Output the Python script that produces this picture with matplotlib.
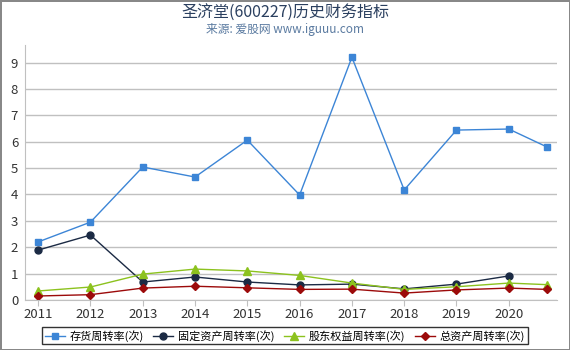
import matplotlib
matplotlib.use("Agg")
import matplotlib.pyplot as plt

plt.rcParams['font.family'] = ['Noto Sans CJK SC', 'DejaVu Sans']

# x positions (the last report is a partial year)
years = [2011, 2012, 2013, 2014, 2015, 2016, 2017, 2018, 2019, 2020, 2020.73]
xticks = [2011, 2012, 2013, 2014, 2015, 2016, 2017, 2018, 2019, 2020]

inventory = [2.2, 2.95, 5.04, 4.66, 6.06, 3.98, 9.2, 4.17, 6.44, 6.48, 5.8]
fixed_assets = [1.89, 2.46, 0.68, 0.87, 0.68, 0.57, 0.6, 0.42, 0.6, 0.91]
equity = [0.34, 0.49, 0.98, 1.17, 1.1, 0.93, 0.64, 0.4, 0.5, 0.64, 0.58]
total_assets = [0.15, 0.2, 0.45, 0.52, 0.46, 0.4, 0.41, 0.26, 0.38, 0.45, 0.4]

fig = plt.figure(figsize=(5.7, 3.5), dpi=100)
fig.patch.set_edgecolor('#888888')
fig.patch.set_linewidth(2)
ax = fig.add_axes([0.044, 0.143, 0.933, 0.728])

ax.plot(years, inventory, color='#3c85d6', marker='s', markersize=5, lw=1, label='存货周转率(次)')
ax.plot(years[:len(fixed_assets)], fixed_assets, color='#1b2a44', marker='o', markersize=5, lw=1, label='固定资产周转率(次)')
ax.plot(years, equity, color='#8cc21e', marker='^', markersize=6, lw=1, label='股东权益周转率(次)')
ax.plot(years, total_assets, color='#9c0a0a', marker='D', markersize=4, lw=1, label='总资产周转率(次)')

ax.set_xlim(2010.75, 2020.92)
ax.set_ylim(0, 9.66)
ax.set_xticks(xticks)
ax.set_xticklabels([str(y) for y in xticks])
ax.set_yticks(range(10))
ax.grid(axis='y', color='#c0c0c0', lw=1)
ax.set_axisbelow(True)
for s in ['top', 'right']:
    ax.spines[s].set_visible(False)
ax.spines['left'].set_color('#c0c0c0')
ax.spines['bottom'].set_color('#c0c0c0')
ax.tick_params(axis='y', length=0, labelsize=9.5, labelcolor='#333333', pad=5)
ax.tick_params(axis='x', length=4, color='#c0c0c0', labelsize=9.5, labelcolor='#333333', pad=2)

fig.text(0.5, 0.963, '圣济堂(600227)历史财务指标', ha='center', va='center', fontsize=11.5, color='#2a3f5f')
fig.text(0.5, 0.915, '来源: 爱股网 www.iguuu.com', ha='center', va='center', fontsize=8.5, color='#5a7aa0')

leg = fig.legend(loc='lower center', bbox_to_anchor=(0.5, 0.0), ncol=4, fontsize=8,
                 frameon=True, fancybox=False, edgecolor='black', handlelength=1.8,
                 columnspacing=0.9, handletextpad=0.4, borderpad=0.25)
leg.get_frame().set_linewidth(1)

fig.savefig('out.png', dpi=100)
